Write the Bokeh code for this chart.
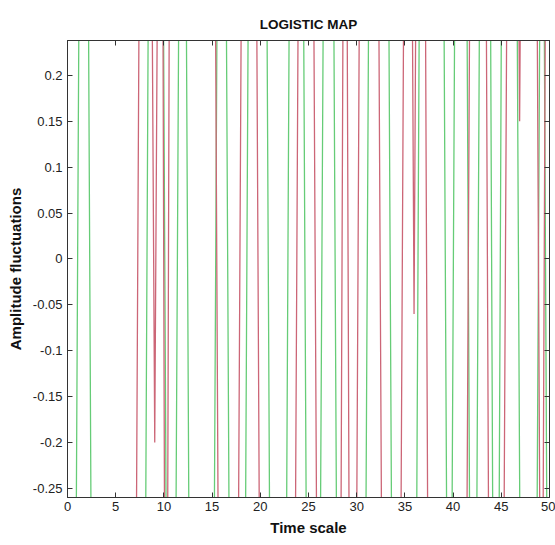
from bokeh.plotting import figure
from bokeh.models import Range1d, FixedTicker, CustomJSTickFormatter, LinearAxis
from bokeh.embed import file_html
from bokeh.resources import INLINE

# ---- data (time, amplitude); values beyond the band are estimates ----
green_t = [0.0, 0.74, 1.34, 1.99, 2.59, 7.91, 8.51, 9.78, 10.38, 11.13, 11.73, 12.17, 12.77,
           15.08, 15.68, 16.33, 16.93, 18.31, 18.91, 20.49, 21.09, 22.57, 23.17, 24.34, 24.94,
           26.10, 26.70, 27.45, 28.05, 30.78, 31.38, 33.17, 33.77, 36.08, 36.68, 38.89, 39.49,
           39.72, 40.32, 41.28, 41.88, 42.32, 42.92, 43.75, 44.25, 44.65, 45.15, 46.48, 47.08,
           48.56, 49.16, 49.28, 49.88, 50.0]
green_v = [-0.55, -0.62, 0.58, 0.66, -0.60, -0.70, 0.55, 0.62, -0.58, -0.52, 0.64, 0.60, -0.66,
           -0.58, 0.60, 0.56, -0.62, -0.60, 0.60, 0.68, -0.54, -0.60, 0.62, 0.58, -0.64,
           -0.56, 0.60, 0.62, -0.58, -0.64, 0.56, 0.60, -0.60, -0.58, 0.66, 0.60, -0.60,
           -0.62, 0.58, 0.60, -0.62, -0.56, 0.64, 0.60, -0.62, -0.58, 0.60, 0.60, -0.60,
           -0.58, 0.60, 0.62, -0.60, -0.60]

red_t = [0.0, 6.98, 7.58, 8.60, 9.05, 9.50, 9.80, 10.15, 10.30, 10.65, 15.19, 15.79,
         17.58, 18.18, 19.45, 20.05, 23.50, 24.10, 25.38, 25.98, 28.25, 28.70, 28.90, 29.32,
         29.85, 30.45, 32.13, 32.73, 34.42, 35.02, 35.60, 35.95, 36.30, 37.00, 37.50,
         41.28, 41.88, 43.30, 43.80, 45.13, 45.73, 46.60, 46.90, 47.20, 48.56, 49.16,
         49.20, 49.70, 50.0]
red_v = [-0.60, -0.64, 0.60, 0.60, -0.20, 0.60, 0.62, -0.58, -0.60, 0.60, 0.60, -0.62,
         -0.60, 0.58, 0.64, -0.60, -0.58, 0.62, 0.60, -0.56, -0.62, 0.60, 0.58, -0.60,
         -0.60, 0.64, 0.60, -0.60, -0.64, 0.58, 0.60, -0.06, 0.60, 0.60, -0.62,
         -0.60, 0.60, 0.62, -0.58, -0.60, 0.60, 0.60, 0.15, 0.62, 0.60, -0.62,
         -0.62, 0.60, 0.60]

x_ticks = [0, 5, 10, 15, 20, 25, 30, 35, 40, 45, 50]
y_ticks = [-0.25, -0.2, -0.15, -0.1, -0.05, 0, 0.05, 0.1, 0.15, 0.2]

TITLE = "LOGISTIC MAP"
XLABEL = "Time scale"
YLABEL = "Amplitude fluctuations"

FONT = "'Liberation Sans', Arial, sans-serif"

p = figure(frame_width=482, frame_height=457,
           min_border_left=67, min_border_right=6, min_border_top=40, min_border_bottom=48,
           x_range=Range1d(0, 50), y_range=Range1d(-0.26, 0.238),
           output_backend="svg", toolbar_location=None, title=TITLE)

p.line(green_t, green_v, line_color="#66cc77", line_width=1.3)
p.line(red_t, red_v, line_color="#cc6677", line_width=1.3)

p.title.align = "center"
p.title.text_font = FONT
p.title.text_font_style = "bold"
p.title.text_font_size = "13.5px"
p.title.text_color = "#111111"
p.title.standoff = 18

fmt = CustomJSTickFormatter(code="return String(Math.round(tick*100)/100);")
blank = CustomJSTickFormatter(code="return '';")

p.xaxis.ticker = FixedTicker(ticks=x_ticks)
p.yaxis.ticker = FixedTicker(ticks=y_ticks)
p.xaxis.formatter = fmt
p.yaxis.formatter = fmt
p.xaxis.axis_label = XLABEL
p.yaxis.axis_label = YLABEL

for ax in (p.xaxis[0], p.yaxis[0]):
    ax.major_tick_in = 5
    ax.major_tick_out = 0
    ax.minor_tick_line_color = None
    ax.axis_line_color = "#333333"
    ax.major_tick_line_color = "#333333"
    ax.major_label_text_font = FONT
    ax.major_label_text_font_size = "13px"
    ax.major_label_text_color = "#222222"
    ax.axis_label_text_font = FONT
    ax.axis_label_text_font_style = "bold"
    ax.axis_label_text_font_size = "15px"
    ax.axis_label_text_color = "#111111"

p.xaxis.major_label_standoff = 4
p.xaxis.axis_label_standoff = 5
p.yaxis.major_label_standoff = 5
p.yaxis.axis_label_standoff = 6

for loc, ticks in (("right", y_ticks), ("above", x_ticks)):
    ax = LinearAxis(ticker=FixedTicker(ticks=ticks), formatter=blank)
    ax.major_tick_in = 5
    ax.major_tick_out = 0
    ax.minor_tick_line_color = None
    ax.axis_line_color = "#333333"
    ax.major_tick_line_color = "#333333"
    ax.major_label_standoff = 0
    p.add_layout(ax, loc)

p.xgrid.grid_line_color = None
p.ygrid.grid_line_color = None
p.outline_line_color = "#333333"
p.background_fill_color = "white"
p.border_fill_color = "white"

open("out.html", "w").write(file_html(p, INLINE))
